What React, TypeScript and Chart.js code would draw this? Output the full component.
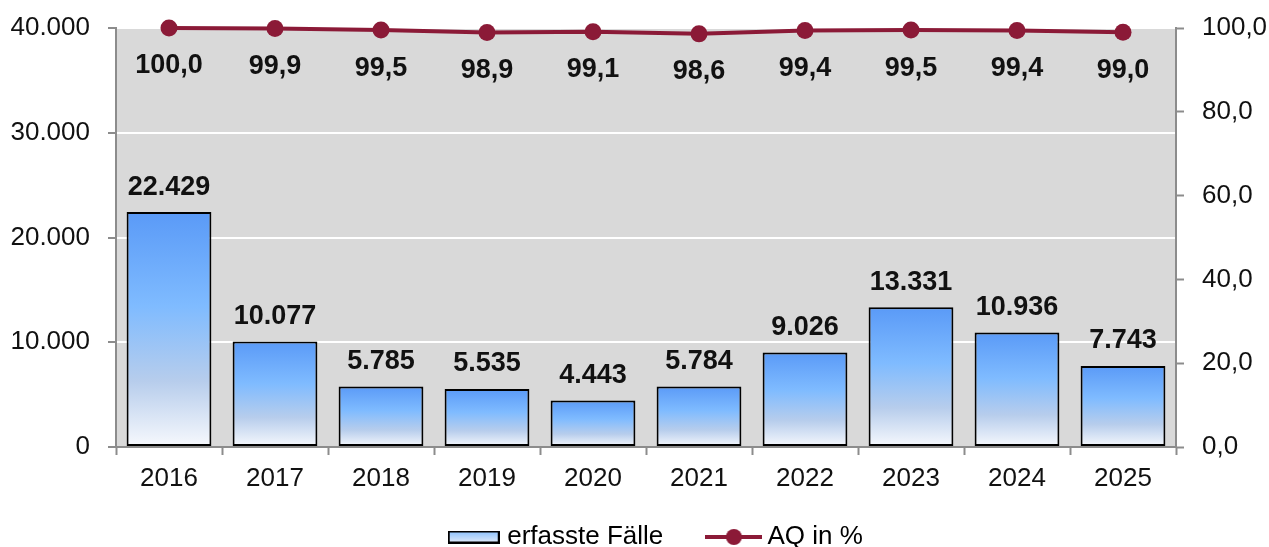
import React, { useEffect, useRef } from "react";
import { Chart, registerables } from "chart.js";

Chart.register(...registerables);

const categories = ["2016", "2017", "2018", "2019", "2020", "2021", "2022", "2023", "2024", "2025"];
const faelle = [22429, 10077, 5785, 5535, 4443, 5784, 9026, 13331, 10936, 7743];
const aq = [100.0, 99.9, 99.5, 98.9, 99.1, 98.6, 99.4, 99.5, 99.4, 99.0];
const leftTicks = [0, 10000, 20000, 30000, 40000];
const rightTicks = [0, 20, 40, 60, 80, 100];
const legendLabels = ["erfasste Fälle", "AQ in %"];

const LINE_COLOR = "#8b1a37";
const AXIS_COLOR = "#8c8c8c";
const FONT = "'Liberation Sans', Arial, sans-serif";

const fmtThousands = (v: number) => {
  const s = Math.round(v).toString();
  return s.replace(/\B(?=(\d{3})+(?!\d))/g, ".");
};
const fmtDec = (v: number) => v.toFixed(1).replace(".", ",");

function addStops(g: CanvasGradient) {
  g.addColorStop(0, "#5a9af7");
  g.addColorStop(0.4, "#7fbbff");
  g.addColorStop(0.72, "#b7cdec");
  g.addColorStop(1, "#f7f9fd");
}

function makeBarLegendImage() {
  const c = document.createElement("canvas");
  c.width = 52;
  c.height = 13;
  const x = c.getContext("2d")!;
  const g = x.createLinearGradient(0, 1, 0, 12);
  g.addColorStop(0, "#8fc3ff");
  g.addColorStop(1, "#dfeaf8");
  x.fillStyle = g;
  x.fillRect(1, 1, 50, 11);
  x.strokeStyle = "#000";
  x.lineWidth = 2;
  x.strokeRect(1, 1, 50, 11);
  return c;
}

function makeLineLegendImage() {
  const c = document.createElement("canvas");
  c.width = 57;
  c.height = 20;
  const x = c.getContext("2d")!;
  x.strokeStyle = LINE_COLOR;
  x.lineWidth = 4;
  x.beginPath();
  x.moveTo(0, 10);
  x.lineTo(57, 10);
  x.stroke();
  x.fillStyle = LINE_COLOR;
  x.beginPath();
  x.arc(28.5, 10, 8, 0, Math.PI * 2);
  x.fill();
  return c;
}

const SHIFT = 23.5;

const bgPlugin = {
  id: "plotBg",
  afterLayout(chart: any) {
    const lg = chart.legend;
    if (lg) {
      lg.left += SHIFT;
      lg.right += SHIFT;
    }
  },
  beforeDraw(chart: any) {
    const { ctx, chartArea } = chart;
    if (!chartArea) return;
    ctx.save();
    ctx.fillStyle = "#d9d9d9";
    ctx.fillRect(chartArea.left, chartArea.top, chartArea.right - chartArea.left, chartArea.bottom - chartArea.top);
    ctx.restore();
  },
};

const labelPlugin = {
  id: "valueLabels",
  afterDatasetsDraw(chart: any) {
    const { ctx } = chart;
    ctx.save();
    ctx.fillStyle = "#111";
    ctx.textAlign = "center";
    ctx.textBaseline = "middle";
    ctx.font = `bold 27px ${FONT}`;
    const barMeta = chart.getDatasetMeta(0);
    barMeta.data.forEach((el: any, i: number) => {
      ctx.fillText(fmtThousands(faelle[i]), el.x, el.y - 25);
    });
    const lineMeta = chart.getDatasetMeta(1);
    lineMeta.data.forEach((el: any, i: number) => {
      ctx.fillText(fmtDec(aq[i]), el.x, el.y + 38);
    });
    ctx.restore();
  },
};

export default function App() {
  const ref = useRef<HTMLCanvasElement>(null);
  useEffect(() => {
    if (!ref.current) return;
    const barImg = makeBarLegendImage();
    const lineImg = makeLineLegendImage();
    const noPad = (s: any) => {
      s.paddingTop = 0;
      s.paddingBottom = 0;
    };
    const chart = new Chart(ref.current, {
      type: "bar",
      data: {
        labels: categories,
        datasets: [
          {
            type: "bar",
            label: legendLabels[0],
            data: faelle,
            yAxisID: "y",
            order: 2,
            borderColor: "#000",
            borderWidth: 2,
            borderSkipped: false,
            barPercentage: 0.8,
            categoryPercentage: 1.0,
            backgroundColor: (c: any) => {
              const ch = c.chart;
              if (!ch.chartArea || c.type !== "data") return "#7fbbff";
              const y = ch.scales.y;
              const top = y.getPixelForValue(c.raw);
              const base = y.getPixelForValue(0);
              const g = ch.ctx.createLinearGradient(0, top, 0, base);
              addStops(g);
              return g;
            },
          } as any,
          {
            type: "line",
            label: legendLabels[1],
            data: aq,
            yAxisID: "y1",
            order: 1,
            borderColor: LINE_COLOR,
            backgroundColor: LINE_COLOR,
            borderWidth: 4,
            pointRadius: 8.5,
            pointBorderWidth: 0,
            pointBackgroundColor: LINE_COLOR,
            tension: 0,
            clip: false,
          } as any,
        ],
      },
      options: {
        animation: false,
        responsive: false,
        layout: { padding: { top: 28, left: 0, right: 0, bottom: -13 } },
        plugins: {
          tooltip: { enabled: false },
          legend: {
            position: "bottom",
            labels: {
              usePointStyle: true,
              pointStyleWidth: 41,
              padding: 14,
              color: "#111",
              font: { family: FONT, size: 26 },
              generateLabels: () => [
                { text: legendLabels[0] + "     ", pointStyle: barImg, fillStyle: "#000", strokeStyle: "#000", lineWidth: 0, hidden: false, datasetIndex: 0 } as any,
                { text: legendLabels[1], pointStyle: lineImg, fillStyle: "#000", strokeStyle: "#000", lineWidth: 0, hidden: false, datasetIndex: 1 } as any,
              ],
            },
          },
        },
        scales: {
          x: {
            offset: true,
            grid: { display: true, drawOnChartArea: false, offset: true, tickColor: AXIS_COLOR, tickLength: 8, tickWidth: 2 },
            border: { color: AXIS_COLOR, width: 2 },
            ticks: { color: "#111", font: { family: FONT, size: 26 }, padding: 8, maxRotation: 0 },
            afterFit: (s: any) => { s.height = 63; },
          },
          y: {
            position: "left",
            min: 0,
            max: 40000,
            afterBuildTicks: (s: any) => { s.ticks = leftTicks.map((v) => ({ value: v })); },
            grid: { color: "#ffffff", lineWidth: 2, tickColor: AXIS_COLOR, tickLength: 8, tickWidth: 2 },
            border: { color: AXIS_COLOR, width: 2 },
            ticks: { color: "#111", font: { family: FONT, size: 26 }, padding: 18, callback: (v: any) => fmtThousands(Number(v)) },
            afterFit: (s: any) => { s.width = 116; noPad(s); },
          },
          y1: {
            position: "right",
            min: 0,
            max: 100,
            afterBuildTicks: (s: any) => { s.ticks = rightTicks.map((v) => ({ value: v })); },
            grid: { drawOnChartArea: false, tickColor: AXIS_COLOR, tickLength: 8, tickWidth: 2 },
            border: { color: AXIS_COLOR, width: 2 },
            ticks: { color: "#111", font: { family: FONT, size: 26 }, padding: 18, callback: (v: any) => fmtDec(Number(v)) },
            afterFit: (s: any) => { s.width = 93; noPad(s); },
          },
        },
      },
      plugins: [bgPlugin, labelPlugin],
    });
    return () => chart.destroy();
  }, []);
  return (
    <div style={{ position: "fixed", left: 0, top: 0, width: 1269, height: 547, background: "#fff" }}>
      <canvas ref={ref} width={1269} height={547} style={{ display: "block" }} />
    </div>
  );
}
